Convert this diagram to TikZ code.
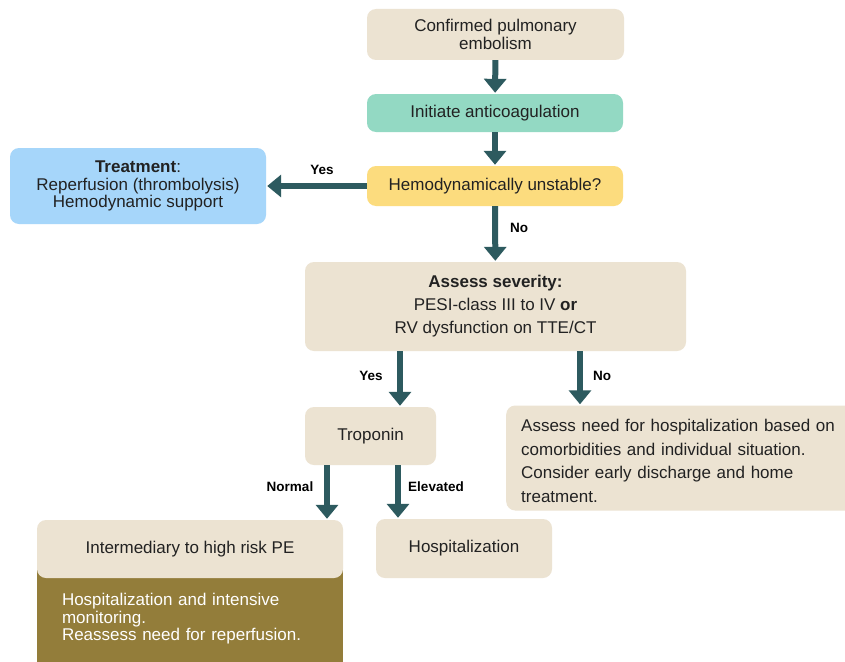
\documentclass[tikz,border=0pt]{standalone}
\usepackage{fontspec}
\setmainfont{Liberation Sans}
\usetikzlibrary{arrows.meta}
\definecolor{beige}{HTML}{ECE3D2}
\definecolor{tealbox}{HTML}{93D9C3}
\definecolor{yellowbox}{HTML}{FCDC7E}
\definecolor{bluebox}{HTML}{A6D6FA}
\definecolor{olive}{HTML}{937D3A}
\definecolor{arrowc}{HTML}{2D5A5F}
\definecolor{txt}{HTML}{222222}
\begin{document}
\begin{tikzpicture}[x=1pt,y=-1pt,
  box/.style={rounded corners=9pt, inner sep=0pt, font=\fontsize{17}{18.5}\selectfont, text=txt, align=center},
  arr/.style={draw=arrowc, line width=6pt, -{Triangle[width=22pt,length=14pt]}, shorten >=1pt},
  lbl/.style={font=\bfseries\fontsize{13.5}{16}\selectfont, text=black}]
\useasboundingbox[fill=white] (0,0) rectangle (845,661);

\node[box, fill=beige, minimum width=257pt, minimum height=51pt] (conf) at (495.5,34.5) {Confirmed pulmonary\\embolism};
\node[box, fill=tealbox, minimum width=256pt, minimum height=38pt] (init) at (495,113) {Initiate anticoagulation};
\node[box, fill=yellowbox, minimum width=256pt, minimum height=40pt] (hemo) at (495,186) {Hemodynamically unstable?};
\node[box, fill=bluebox, minimum width=256pt, minimum height=76pt, font=\fontsize{17}{17.5}\selectfont] (treat) at (138,186) {\textbf{Treatment}:\\Reperfusion (thrombolysis)\\Hemodynamic support};
\node[box, fill=beige, minimum width=381pt, minimum height=89pt, font=\fontsize{17}{23}\selectfont] (sev) at (495.5,306.5) {\textbf{Assess severity:}\\PESI-class III to IV \textbf{or}\\RV dysfunction on TTE/CT};
\node[box, fill=beige, minimum width=131pt, minimum height=58pt] (trop) at (370.5,436) {Troponin};
\node[box, fill=beige, anchor=west, minimum height=105pt, inner xsep=15pt, text width=335pt, align=left, font=\fontsize{17}{23.5}\selectfont] (need) at (506,458) {\rule{0pt}{18.5pt}Assess need for hospitalization based on\\comorbidities and individual situation.\\Consider early discharge and home\\treatment.};
\node[fill=olive, minimum width=306pt, minimum height=100pt, inner sep=0pt, text width=256pt, align=left, text=white, font=\fontsize{17}{17.5}\selectfont] (interdet) at (190,619) {Hospitalization and intensive\\monitoring.\\Reassess need for reperfusion.};
\node[box, fill=beige, minimum width=306pt, minimum height=58pt] (inter) at (190,549) {Intermediary to high risk PE};
\node[box, fill=beige, minimum width=176pt, minimum height=59pt] (hosp) at (464,548.5) {Hospitalization};

\draw[arr] (conf) -- (init);
\draw[arr] (init) -- (hemo);
\draw[arr] (hemo) -- (treat);
\draw[arr] (hemo) -- (sev);
\draw[arr] (sev.south -| 400,0) -- (400,0 |- trop.north);
\draw[arr] (sev.south -| 580,0) -- (580,0 |- need.north);
\draw[arr] (trop.south -| 327,0) -- (327,0 |- inter.north);
\draw[arr] (trop.south -| 398,0) -- (398,0 |- hosp.north);

\node[lbl] (l1) at (322,170) {Yes};
\node[lbl] (l2) at (519,228) {No};
\node[lbl] (l3) at (371,376) {Yes};
\node[lbl] (l4) at (602,376) {No};
\node[lbl] (l5) at (290,487) {Normal};
\node[lbl] (l6) at (436,487) {Elevated};
\end{tikzpicture}
\end{document}
